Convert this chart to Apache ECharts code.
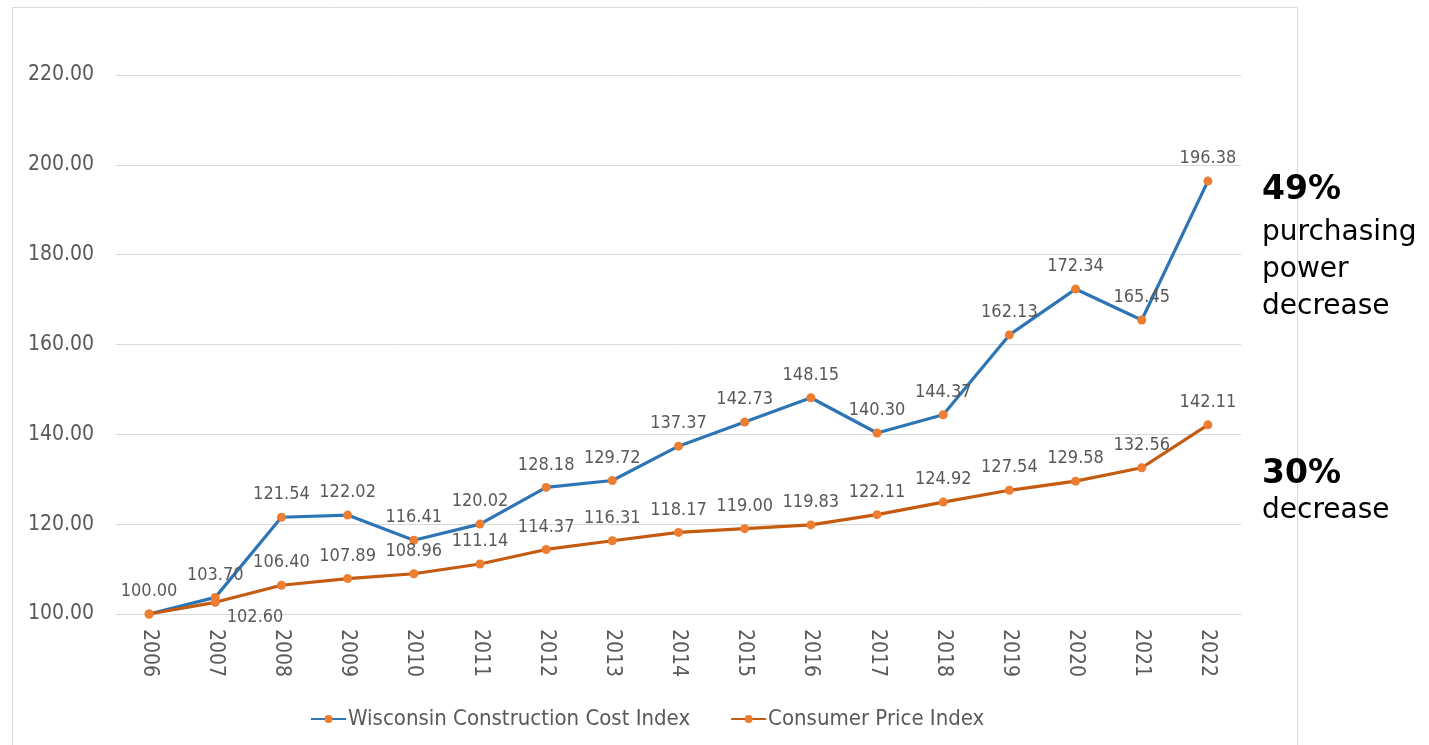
<!DOCTYPE html>
<html>
<head>
<meta charset="utf-8">
<script src="https://cdn.jsdelivr.net/npm/echarts@6/dist/echarts.min.js"></script>
<style>
  html, body { margin: 0; padding: 0; background: #fff; }
  #chart { width: 1429px; height: 745px; }
</style>
</head>
<body>
<div id="chart"></div>
<script>
// 数据
const years = ["2006", "2007", "2008", "2009", "2010", "2011", "2012", "2013", "2014",
  "2015", "2016", "2017", "2018", "2019", "2020", "2021", "2022"];
const wcci = [100.00, 103.70, 121.54, 122.02, 116.41, 120.02, 128.18, 129.72, 137.37,
  142.73, 148.15, 140.30, 144.37, 162.13, 172.34, 165.45, 196.38];
const cpi = [100.00, 102.60, 106.40, 107.89, 108.96, 111.14, 114.37, 116.31, 118.17,
  119.00, 119.83, 122.11, 124.92, 127.54, 129.58, 132.56, 142.11];
const yTicks = [100, 120, 140, 160, 180, 200, 220];

const font = "'DejaVu Sans Condensed', 'DejaVu Sans'";
const textColor = "#595959";

let myChart = echarts.init(document.getElementById("chart"));

// CPI点：2006隐藏标签，2007标签放在右下
const cpiData = cpi.map((v, i) => {
  if (i === 0) return { value: v, label: { show: false } };
  if (i === 1) return { value: v, label: { position: "right", offset: [-2, 15] } };
  return v;
});

const option = {
  animation: false,
  textStyle: { fontFamily: font },
  grid: { left: 116, right: 188, top: 75, bottom: 131 },
  legend: {
    bottom: 10,
    left: 305,
    itemWidth: 35,
    itemHeight: 10,
    itemGap: 40,
    textStyle: { fontSize: 22, color: textColor, fontFamily: font, padding: [0, 0, 0, -3] },
    data: ["Wisconsin Construction Cost Index", "Consumer Price Index"],
  },
  xAxis: {
    type: "category",
    data: years,
    boundaryGap: true,
    axisLine: { show: true, lineStyle: { color: "#d9d9d9" } },
    axisTick: { show: false },
    axisLabel: { rotate: -90, fontSize: 21, color: textColor, margin: 15, fontFamily: font },
  },
  yAxis: {
    type: "value",
    min: yTicks[0],
    max: yTicks[yTicks.length - 1],
    interval: 20,
    axisLine: { show: false },
    axisTick: { show: false },
    splitLine: { lineStyle: { color: "#d9d9d9" } },
    axisLabel: {
      fontSize: 21, color: textColor, margin: 22, fontFamily: font,
      formatter: (v) => v.toFixed(2),
    },
  },
  series: [
    {
      name: "Wisconsin Construction Cost Index",
      type: "line",
      data: wcci,
      symbol: "circle",
      symbolSize: 9,
      lineStyle: { color: "#2E75B6", width: 3.2 },
      itemStyle: { color: "#ED7D31" },
      label: {
        show: true, position: "top", distance: 9,
        fontSize: 18, color: textColor, fontFamily: font,
        formatter: (p) => p.value.toFixed(2),
      },
      z: 3,
    },
    {
      name: "Consumer Price Index",
      type: "line",
      data: cpiData,
      symbol: "circle",
      symbolSize: 9,
      lineStyle: { color: "#C55A11", width: 3.2 },
      itemStyle: { color: "#ED7D31" },
      label: {
        show: true, position: "top", distance: 9,
        fontSize: 18, color: textColor, fontFamily: font,
        formatter: (p) => Number(p.value).toFixed(2),
      },
      z: 4,
    },
  ],
  graphic: [
    {
      type: "rect", left: 10, top: 5, z: -10,
      shape: { width: 1285, height: 745 },
      style: { fill: "none", stroke: "#d9d9d9", lineWidth: 1 },
    },
    {
      type: "text", left: 1262, top: 174,
      style: { text: "49%", font: "bold 33px 'DejaVu Sans'", fill: "#000" },
    },
    {
      type: "text", left: 1262, top: 214,
      style: { text: "purchasing\npower\ndecrease", font: "28px 'DejaVu Sans'", fill: "#000", lineHeight: 37 },
    },
    {
      type: "text", left: 1262, top: 458,
      style: { text: "30%", font: "bold 33px 'DejaVu Sans'", fill: "#000" },
    },
    {
      type: "text", left: 1262, top: 497,
      style: { text: "decrease", font: "28px 'DejaVu Sans'", fill: "#000" },
    },
  ],
};
myChart.setOption(option);
</script>
</body>
</html>
